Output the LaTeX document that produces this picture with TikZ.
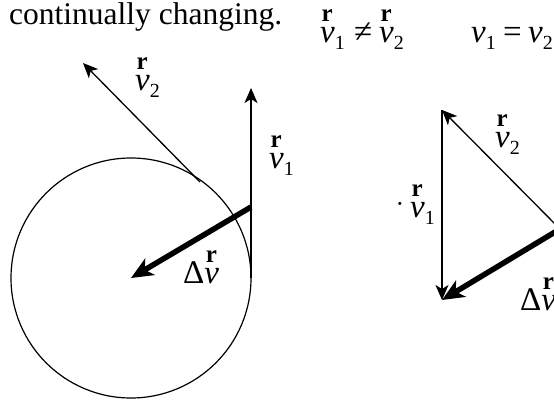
\documentclass[tikz,border=0pt]{standalone}
\usepackage{fontspec}
\setmainfont{Liberation Serif}
\usetikzlibrary{arrows.meta}
\newcommand\rmark{{\fontsize{25}{25}\selectfont\bfseries r}}
\newcommand\vv[1]{\rlap{\raisebox{21pt}{\hspace{1.5pt}\rmark}}\textit{v}\raisebox{-7pt}{\fontsize{20}{20}\selectfont #1}}
\newcommand\vp[1]{\textit{v}\raisebox{-7pt}{\fontsize{20}{20}\selectfont #1}}
\tikzset{
  lbl/.style={inner sep=0pt, anchor=base west, font=\fontsize{33}{33}\selectfont},
  thinarrow/.style={line width=1.3pt, -{Stealth[length=15pt,width=13pt,inset=4pt]}},
  thickarrow/.style={line width=5.5pt, -{Stealth[length=22pt,width=19pt,inset=6pt]}},
  circ/.style={line width=1.2pt}
}
\begin{document}
\begin{tikzpicture}[x=1pt,y=-1pt]
\useasboundingbox (0,0) rectangle (554,400);
\clip (0,0) rectangle (554,400);
% top text
\node[lbl, font=\fontsize{31.5}{31.5}\selectfont] (title) at (9,24) {continually changing.};
\node[lbl] (ta) at (320,42) {\vv{1}};
\node[lbl] (tne) at (354,42) {≠};
\node[lbl] (tb) at (379,42) {\vv{2}};
\node[lbl] (tc) at (471,42) {\vp{1}};
\node[lbl] (teq) at (503,42) {=};
\node[lbl] (td) at (528,42) {\vp{2}};
% left figure
\coordinate (C) at (131,278);
\coordinate (P1) at (251,278);
\coordinate (P1top) at (251,88);
\coordinate (P2) at (200,182);
\coordinate (P2tip) at (83,63);
\coordinate (D1) at (251,207);
\draw[circ] (C) circle[radius=120];
\draw[thinarrow] (P1) -- (P1top);
\draw[thinarrow] (P2) -- (P2tip);
\draw[thickarrow] (D1) -- (C);
\node[lbl] (lv2) at (135,90) {\vv{2}};
\node[lbl] (lv1) at (269,168) {\vv{1}};
\node[lbl] (ldv) at (183,283) {Δ\vv{}};
% right figure
\coordinate (T) at (442,110);
\coordinate (B) at (442,300);
\coordinate (R) at (560,229);
\draw[thinarrow] (T) -- (B);
\draw[thinarrow] (R) -- (T);
\draw[thickarrow] (R) -- (B);
\node[inner sep=0pt, font=\fontsize{26}{26}\selectfont] (dot) at (400,207) {·};
\node[lbl] (rv1) at (410,217) {\vv{1}};
\node[lbl] (rv2) at (495,147) {\vv{2}};
\node[lbl] (rdv) at (520,310) {Δ\vv{}};
\end{tikzpicture}
\end{document}
